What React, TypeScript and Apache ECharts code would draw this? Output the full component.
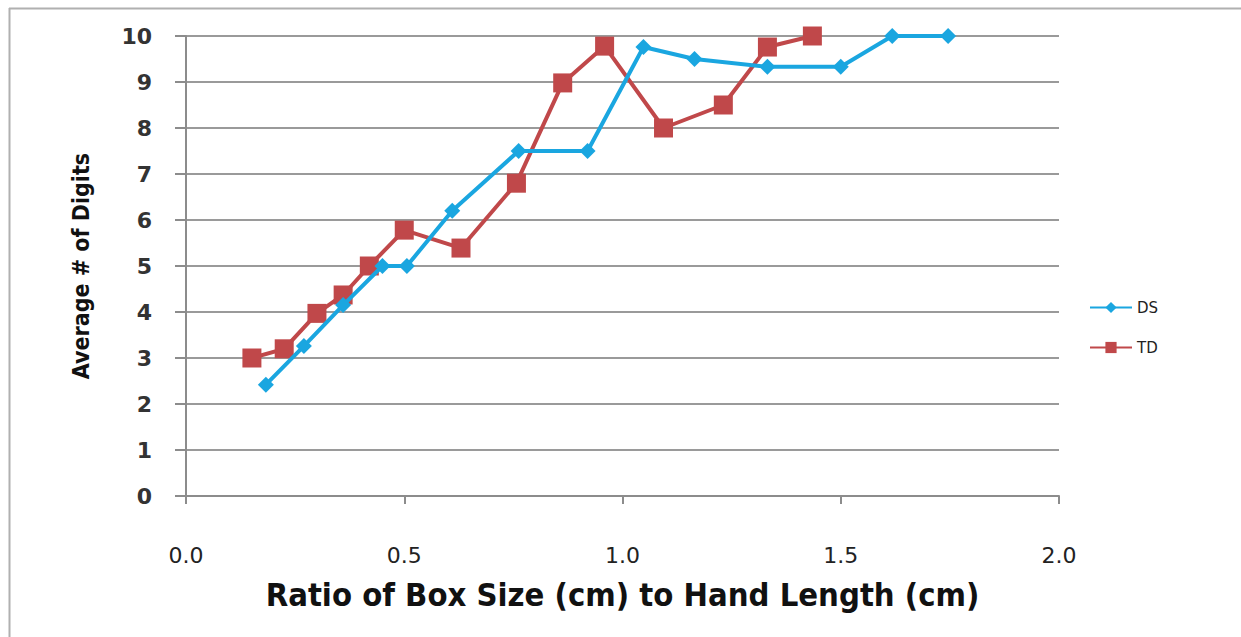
import React, { useEffect, useRef } from "react";
import * as echarts from "echarts";

const dsX = [0.183, 0.27, 0.36, 0.45, 0.506, 0.61, 0.762, 0.92, 1.048, 1.165, 1.332, 1.5, 1.618, 1.746];
const dsY = [2.42, 3.26, 4.15, 5.0, 5.0, 6.2, 7.5, 7.5, 9.76, 9.5, 9.33, 9.33, 10, 10];
const tdX = [0.151, 0.225, 0.3, 0.36, 0.42, 0.5, 0.63, 0.757, 0.863, 0.959, 1.094, 1.231, 1.332, 1.435];
const tdY = [3.0, 3.2, 3.97, 4.37, 5.0, 5.78, 5.39, 6.8, 8.98, 9.78, 8.0, 8.5, 9.76, 10];
const seriesNames = ["DS", "TD"];
const xTitle = "Ratio of Box Size (cm) to Hand Length (cm)";
const yTitle = "Average # of Digits";

export default function App() {
  const ref = useRef<HTMLDivElement>(null);
  useEffect(() => {
    document.body.style.margin = "0";
    const chart = echarts.init(ref.current!, undefined, { renderer: "svg" });
    const pairs = (xs: number[], ys: number[]) => xs.map((x, i) => [x, ys[i]]);
    chart.setOption({
      animation: false,
      backgroundColor: "#ffffff",
      grid: { left: 186, right: 182, top: 36, bottom: 141 },
      legend: {
        orient: "vertical",
        left: 1084,
        top: 295,
        itemGap: 25,
        itemWidth: 42,
        itemHeight: 14,
        textStyle: { fontFamily: "DejaVu Sans", fontSize: 15, color: "#222" },
        data: seriesNames,
      },
      xAxis: {
        type: "value",
        min: 0,
        max: 2,
        interval: 0.5,
        name: xTitle,
        nameLocation: "middle",
        nameGap: 82,
        nameTextStyle: { fontFamily: "DejaVu Sans Condensed", fontWeight: "bold", fontSize: 32.5, color: "#111" },
        axisLine: { lineStyle: { color: "#8c8c8c", width: 2 } },
        axisTick: { show: true, length: 8, lineStyle: { color: "#8c8c8c", width: 2 } },
        axisLabel: {
          margin: 48,
          fontFamily: "DejaVu Sans",
          fontSize: 22,
          color: "#222",
          formatter: (v: number) => v.toFixed(1),
        },
        splitLine: { show: false },
      },
      yAxis: {
        type: "value",
        min: 0,
        max: 10,
        interval: 1,
        name: yTitle,
        nameLocation: "middle",
        nameGap: 94,
        nameTextStyle: { fontFamily: "DejaVu Sans Condensed", fontWeight: "bold", fontSize: 23, color: "#111" },
        axisLine: { show: true, lineStyle: { color: "#8c8c8c", width: 2 } },
        axisTick: { show: true, length: 11, lineStyle: { color: "#8c8c8c", width: 2 } },
        axisLabel: {
          margin: 34,
          fontFamily: "DejaVu Sans",
          fontWeight: "bold",
          fontSize: 22,
          color: "#333",
        },
        splitLine: { show: true, lineStyle: { color: "#9a9a9a", width: 2 } },
      },
      series: [
        {
          name: seriesNames[0],
          type: "line",
          data: pairs(dsX, dsY),
          symbol: "diamond",
          symbolSize: 16,
          itemStyle: { color: "#1aa6e0" },
          lineStyle: { color: "#1aa6e0", width: 4 },
          z: 3,
        },
        {
          name: seriesNames[1],
          type: "line",
          data: pairs(tdX, tdY),
          symbol: "rect",
          symbolSize: 19,
          itemStyle: { color: "#c0484a" },
          lineStyle: { color: "#c0484a", width: 4 },
          z: 2,
        },
      ],
      graphic: [
        { type: "line", shape: { x1: 9, y1: 8.5, x2: 1241, y2: 8.5 }, style: { stroke: "#b0b0b0", lineWidth: 2 } },
        { type: "line", shape: { x1: 9.5, y1: 8, x2: 9.5, y2: 637 }, style: { stroke: "#b0b0b0", lineWidth: 2 } },
      ],
    });
    return () => chart.dispose();
  }, []);
  return <div ref={ref} style={{ width: 1241, height: 637 }} />;
}
